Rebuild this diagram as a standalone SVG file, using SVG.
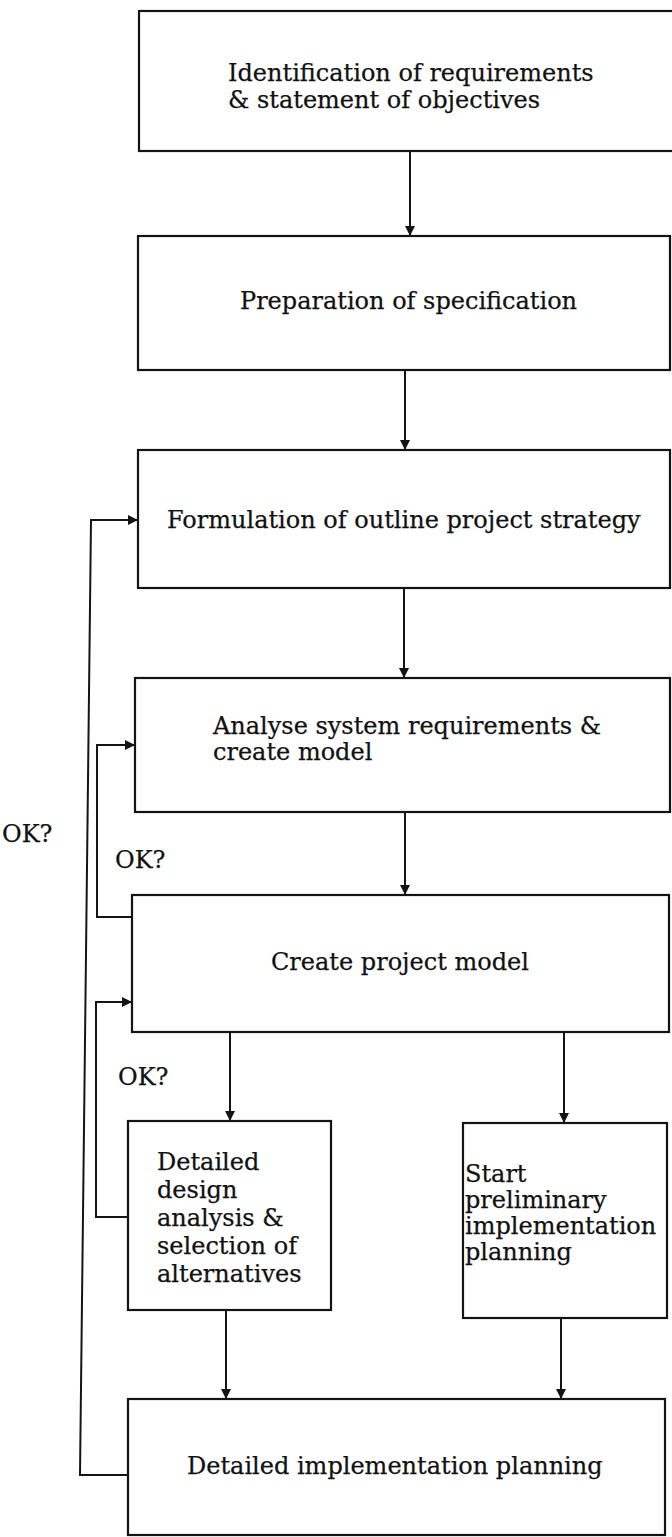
<svg xmlns="http://www.w3.org/2000/svg" width="672" height="1537" viewBox="0 0 672 1537">
  <style>
    .box { fill: none; stroke: #141414; stroke-width: 2.2; }
    .wire { fill: none; stroke: #141414; stroke-width: 2; }
    .label { font-family: "DejaVu Serif", "Liberation Serif", serif; font-size: 24px; fill: #111; stroke: #111; stroke-width: 0.25; }
  </style>
  <defs>
    <marker id="arrow" viewBox="0 0 10 10" refX="10" refY="5" markerWidth="11" markerHeight="10" markerUnits="userSpaceOnUse" orient="auto">
      <path d="M0,0 L10,5 L0,10 Z" fill="#141414"/>
    </marker>
  </defs>
  <rect width="672" height="1537" fill="#ffffff"/>

  <!-- process steps -->
  <g id="identification">
    <rect class="box" x="139" y="11" width="540" height="140"/>
    <text class="label" x="228" y="81">Identification of requirements</text>
    <text class="label" x="228" y="108">&amp; statement of objectives</text>
  </g>
  <g id="specification">
    <rect class="box" x="138" y="236" width="532" height="134"/>
    <text class="label" x="240" y="309">Preparation of specification</text>
  </g>
  <g id="strategy">
    <rect class="box" x="138" y="450" width="532" height="138"/>
    <text class="label" x="167" y="528">Formulation of outline project strategy</text>
  </g>
  <g id="analyse">
    <rect class="box" x="135" y="678" width="535" height="134"/>
    <text class="label" x="213" y="734">Analyse system requirements &amp;</text>
    <text class="label" x="213" y="760">create model</text>
  </g>
  <g id="project-model">
    <rect class="box" x="132" y="895" width="537" height="137"/>
    <text class="label" x="271" y="970">Create project model</text>
  </g>
  <g id="design-analysis">
    <rect class="box" x="128" y="1121" width="203" height="189"/>
    <text class="label" x="157" y="1170">Detailed</text>
    <text class="label" x="157" y="1198">design</text>
    <text class="label" x="157" y="1226">analysis &amp;</text>
    <text class="label" x="157" y="1254">selection of</text>
    <text class="label" x="157" y="1282">alternatives</text>
  </g>
  <g id="preliminary-planning">
    <rect class="box" x="463" y="1123" width="204" height="195"/>
    <text class="label" x="465" y="1182">Start</text>
    <text class="label" x="465" y="1208">preliminary</text>
    <text class="label" x="465" y="1234">implementation</text>
    <text class="label" x="465" y="1260">planning</text>
  </g>
  <g id="implementation-planning">
    <rect class="box" x="128" y="1399" width="537" height="136"/>
    <text class="label" x="187" y="1474">Detailed implementation planning</text>
  </g>

  <!-- connectors and feedback loops -->
  <g id="connectors">
    <line class="wire" x1="410" y1="151" x2="410" y2="236" marker-end="url(#arrow)"/>
    <line class="wire" x1="405" y1="370" x2="405" y2="450" marker-end="url(#arrow)"/>
    <line class="wire" x1="404" y1="588" x2="404" y2="678" marker-end="url(#arrow)"/>
    <line class="wire" x1="405" y1="812" x2="405" y2="895" marker-end="url(#arrow)"/>
    <line class="wire" x1="230" y1="1032" x2="230" y2="1121" marker-end="url(#arrow)"/>
    <line class="wire" x1="564" y1="1032" x2="564" y2="1123" marker-end="url(#arrow)"/>
    <line class="wire" x1="226" y1="1310" x2="226" y2="1399" marker-end="url(#arrow)"/>
    <line class="wire" x1="561" y1="1318" x2="561" y2="1399" marker-end="url(#arrow)"/>

    <!-- loop back to outline strategy -->
    <path class="wire" d="M128,1475 H80 L91,520 H138" marker-end="url(#arrow)"/>
    <!-- loop back to system analysis -->
    <path class="wire" d="M132,917 H97 V745 H135" marker-end="url(#arrow)"/>
    <!-- loop back to project model -->
    <path class="wire" d="M128,1217 H96 V1002 H132" marker-end="url(#arrow)"/>

    <text class="label" x="115" y="868">OK?</text>
    <text class="label" x="118" y="1085">OK?</text>
    <text class="label" x="2" y="842">OK?</text>
  </g>
</svg>
